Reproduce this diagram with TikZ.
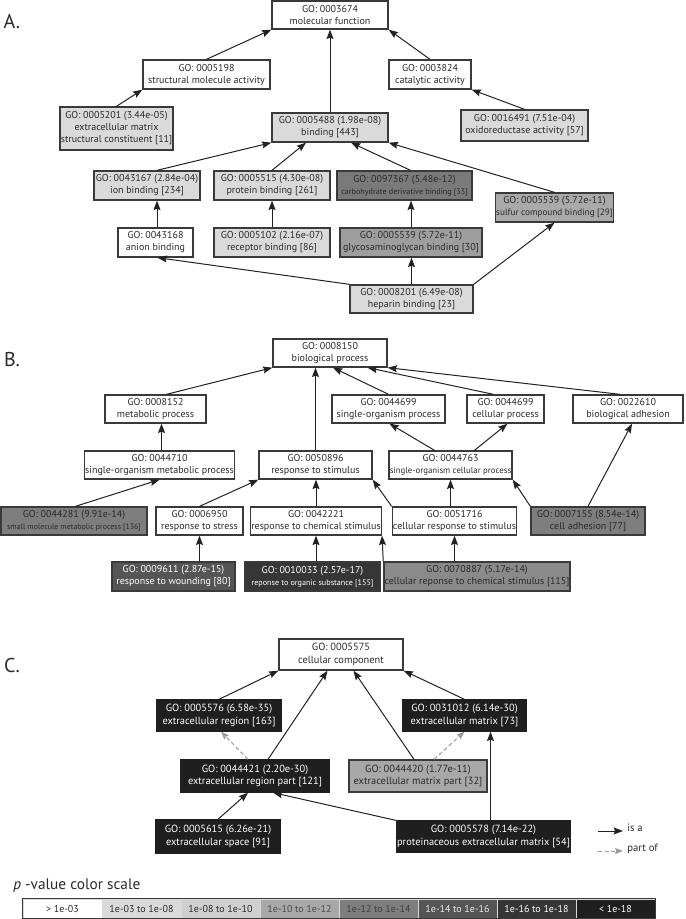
\documentclass[tikz,border=0pt]{standalone}
\usepackage{fontspec}
\setmainfont{PT Sans}
\usetikzlibrary{arrows.meta,calc}
\definecolor{cB}{HTML}{DADADA}
\definecolor{cC}{HTML}{CFCFCF}
\definecolor{cD}{HTML}{A8A8A8}
\definecolor{cE}{HTML}{7E7E7E}
\definecolor{cE2}{HTML}{8A8A8A}
\definecolor{cF}{HTML}{555555}
\definecolor{cG}{HTML}{363636}
\definecolor{cH}{HTML}{1F1F1F}
\definecolor{cCarb}{HTML}{7A7A7A}
\definecolor{cGly}{HTML}{9E9E9E}
\definecolor{cSul}{HTML}{AAAAAA}
\definecolor{edge}{HTML}{3A3A3A}
\definecolor{txt}{HTML}{2A2A2A}
\definecolor{arr}{HTML}{222222}
\definecolor{dashc}{HTML}{999999}
\newcommand\gob[7]{\node[gobox,#6,minimum width={(#4-#2)*0.75pt},minimum height={(#5-#3)*0.75pt}] (#1) at ({(#2+#4)/2},{(#3+#5)/2}) {#7};}
\newcommand\fsA{\fontsize{7.5}{9}\selectfont}
\newcommand\fsC{\fontsize{7.8}{9.3}\selectfont}
\tikzset{
  gobox/.style={draw=edge, line width=1pt, inner sep=0.5pt, align=center, font=\fsA, text=txt},
  dk/.style={fill=cH, draw=cH, text=white, font=\fsC},
  cbox/.style={font=\fsC},
  isa/.style={draw=arr, line width=0.75pt, -{Stealth[length=7pt,width=5.2pt,inset=1pt]}},
  partof/.style={draw=dashc, line width=0.75pt, dash pattern=on 3pt off 2pt, -{Stealth[length=6pt,width=4.5pt,inset=1pt,fill=dashc]}},
  seclabel/.style={font=\fontsize{15}{17}\selectfont, text=txt},
  legcell/.style={draw=white!85!black, line width=0.4pt, minimum width=79*0.75pt, minimum height=19*0.75pt, inner sep=0pt, font=\fontsize{7.5}{9}\selectfont}
}
\begin{document}
\begin{tikzpicture}[x=0.75pt,y=-0.75pt]
\useasboundingbox (0,0) rectangle (685,919);
% ---------------- A
\node[seclabel] (labA) at (12,22) {A.};
\gob{mf}{272}{1}{388}{29}{}{GO: 0003674\\molecular function}
\gob{struct}{143}{60}{270}{89}{}{GO: 0005198\\structural molecule activity}
\gob{cat}{389}{60}{471}{89}{}{GO: 0003824\\catalytic activity}
\gob{gA}{60}{107}{173}{150}{fill=cB}{GO: 0005201 (3.44e-05)\\extracellular matrix\\structural constituent [11]}
\gob{bind}{272}{113}{388}{142}{fill=cB}{GO: 0005488 (1.98e-08)\\binding [443]}
\gob{gB}{461}{110}{588}{141}{fill=cB}{GO: 0016491 (7.51e-04)\\oxidoreductase activity [57]}
\gob{ion}{94}{171}{200}{200}{fill=cB}{GO: 0043167 (2.84e-04)\\ion binding [234]}
\gob{prot}{214}{171}{330}{200}{fill=cB}{GO: 0005515 (4.30e-08)\\protein binding [261]}
\gob{carb}{337}{171}{472}{200}{fill=cCarb}{GO: 0097367 (5.48e-12)\\{\fontsize{6.1}{9}\selectfont carbohydrate derivative binding [33]}}
\gob{sulf}{496}{193}{613}{222}{fill=cSul}{GO: 0005539 (5.72e-11)\\{\fontsize{6.9}{9}\selectfont sulfur compound binding [29]}}
\gob{anion}{118}{228}{193}{257}{}{GO: 0043168\\anion binding}
\gob{recep}{214}{228}{330}{257}{fill=cB}{GO: 0005102 (2.16e-07)\\receptor binding [86]}
\gob{glyc}{340}{228}{482}{257}{fill=cGly}{GO: 0005539 (5.72e-11)\\glycosaminoglycan binding [30]}
\gob{hep}{350}{285}{473}{313}{fill=cB}{GO: 0008201 (6.49e-08)\\heparin binding [23]}
\draw[isa] (struct.north) -- (mf.south west);
\draw[isa] (cat.north) -- (mf.south east);
\draw[isa] (bind.north) -- (mf.south);
\draw[isa] (gA.north) -- (struct.south west);
\draw[isa] (gB.north) -- (cat.south east);
\draw[isa] ($(ion.north)+(10,0)$) -- (bind.south west);
\draw[isa] (prot.north) -- ($(bind.south)+(-24,0)$);
\draw[isa] ($(carb.north)+(6,0)$) -- ($(bind.south)+(21,0)$);
\draw[isa] (sulf.north) -- (bind.south east);
\draw[isa] ($(anion.north)+(1.5,0)$) coordinate (anN) -- (anN |- ion.south);
\draw[isa] (recep.north) -- (prot.south);
\draw[isa] (glyc.north) -- (glyc.north |- carb.south);
\draw[isa] (hep.north west) -- ($(anion.south)+(2,0)$);
\draw[isa] (hep.north) -- (hep.north |- glyc.south);
\draw[isa] (hep.north east) -- (sulf.south);
% ---------------- B
\node[seclabel] (labB) at (12,360) {B.};
\gob{bio}{273}{339}{387}{367}{}{GO: 0008150\\biological process}
\gob{metab}{105}{395}{206}{423}{}{GO: 0008152\\metabolic process}
\gob{sop}{332}{395}{445}{423}{}{GO: 0044699\\single-organism process}
\gob{cellp}{467}{395}{544}{423}{}{GO: 0044699\\cellular process}
\gob{badh}{573}{395}{683}{423}{}{GO: 0022610\\biological adhesion}
\gob{somp}{87}{451}{232}{479}{}{GO: 0044710\\single-organism metabolic process}
\gob{rstim}{259}{451}{372}{479}{}{GO: 0050896\\response to stimulus}
\gob{socp}{389}{451}{512}{479}{}{GO: 0044763\\{\fontsize{6.6}{9}\selectfont single-organism cellular process}}
\gob{small}{1}{507}{147}{535}{fill=cE}{GO: 0044281 (9.91e-14)\\{\fontsize{5.9}{9}\selectfont small molecule metabolic process [136]}}
\gob{stress}{156}{507}{243}{535}{}{GO: 0006950\\response to stress}
\gob{rchem}{253}{507}{379}{535}{}{GO: 0042221\\response to chemical stimulus}
\gob{crs}{395}{507}{514}{535}{}{GO: 0051716\\cellular response to stimulus}
\gob{cadh}{531}{507}{645}{535}{fill=cE}{GO: 0007155 (8.54e-14)\\cell adhesion [77]}
\gob{wound}{112}{562}{235}{591}{fill=cF,text=white}{GO: 0009611 (2.87e-15)\\response to wounding [80]}
\gob{organic}{245}{562}{380}{591}{fill=cG,text=white}{GO: 0010033 (2.57e-17)\\{\fontsize{6.1}{9}\selectfont reponse to organic substance [155]}}
\gob{crchem}{388}{562}{566}{591}{fill=cE2}{GO: 0070887 (5.17e-14)\\cellular reponse to chemical stimulus [115]}
\draw[isa] ($(metab.north)+(11,0)$) -- (bio.south west);
\draw[isa] (rstim.north) -- (rstim.north |- bio.south);
\draw[isa] (sop.north) -- ($(bio.south)+(3,0)$);
\draw[isa] ($(cellp.north)+(-12,0)$) -- ($(bio.south east)+(-20,0)$);
\draw[isa] ($(badh.north)+(-8,0)$) -- (bio.south east);
\draw[isa] ($(somp.north)+(2,0)$) coordinate (smN) -- (smN |- metab.south);
\draw[isa] ($(socp.north)+(-16,0)$) -- ($(sop.south)+(1,0)$);
\draw[isa] ($(socp.north)+(24,0)$) -- ($(cellp.south)+(2,0)$);
\draw[isa] (cadh.north) -- ($(badh.south)+(4,0)$);
\draw[isa] ($(small.north)+(1.5,0)$) -- (somp.south);
\draw[isa] (stress.north) -- (rstim.south west);
\draw[isa] (rchem.north) -- (rchem.north |- rstim.south);
\draw[isa] (crs.north west) -- (rstim.south east);
\draw[isa] (socp.south |- crs.north) -- (socp.south);
\draw[isa] (cadh.north west) -- (socp.south east);
\draw[isa] (stress.south |- wound.north) -- (stress.south);
\draw[isa] (rchem.south |- organic.north) -- (rchem.south);
\draw[isa] (crchem.north west) -- (rchem.south east);
\draw[isa] (crs.south |- crchem.north) -- (crs.south);
% ---------------- C
\node[seclabel] (labC) at (12,665) {C.};
\gob{cc}{279}{639}{403}{670}{cbox}{GO: 0005575\\cellular component}
\gob{region}{157}{700}{281}{731}{dk}{GO: 0005576 (6.58e-35)\\extracellular region [163]}
\gob{matrix}{403}{700}{526}{731}{dk}{GO: 0031012 (6.14e-30)\\extracellular matrix [73]}
\gob{rpart}{181}{760}{329}{792}{dk}{GO: 0044421 (2.20e-30)\\extracellular region part [121]}
\gob{mpart}{349}{760}{487}{792}{fill=cD,cbox}{GO: 0044420 (1.77e-11)\\extracellular matrix part [32]}
\gob{space}{156}{820}{280}{853}{dk}{GO: 0005615 (6.26e-21)\\extracellular space [91]}
\gob{prot2}{397}{821}{570}{852}{dk}{GO: 0005578 (7.14e-22)\\proteinaceous extracellular matrix [54]}
\draw[isa] (region.north) -- (cc.south west);
\draw[isa] ($(rpart.north)+(13,0)$) -- ($(cc.south)+(-13.5,0)$);
\draw[isa] ($(mpart.north)+(-4,0)$) -- ($(cc.south)+(12.5,0)$);
\draw[isa] (matrix.north) -- (cc.south east);
\draw[partof] ($(rpart.north)+(-7,0)$) -- ($(region.south)+(2,0)$);
\draw[partof] ($(mpart.north)+(16,0)$) -- (matrix.south);
\draw[isa] (space.north) -- ($(rpart.south)+(-7,0)$);
\draw[isa] (prot2.north west) -- ($(rpart.south)+(18,0)$);
\draw[isa] ($(prot2.north)+(7,0)$) coordinate (pN) -- (pN |- matrix.south);
% ---------------- legend
\coordinate (ia1) at (598,831); \coordinate (ia2) at (623,831);
\coordinate (pa1) at (598,851); \coordinate (pa2) at (623,851);
\draw[isa] (ia1) -- (ia2);
\draw[partof] (pa1) -- (pa2);
\node[anchor=west, font=\fontsize{8}{9}\selectfont, text=txt, inner sep=0pt] (isaT) at (627,828) {is a};
\node[anchor=west, font=\fontsize{8}{9}\selectfont, text=txt, inner sep=0pt] (poT) at (627,849) {part of};
\node[anchor=base west, font=\fontsize{11.5}{13}\selectfont, text=txt, inner sep=0pt] (ttl) at (13,889) {\textit{p} -value color scale};
\node[legcell, fill=white, text=txt] (l1) at (62.5,908.5) {> 1e-03};
\node[legcell, fill=cB, text=txt] (l2) at (141.5,908.5) {1e-03 to 1e-08};
\node[legcell, fill=cC, text=txt] (l3) at (220.5,908.5) {1e-08 to 1e-10};
\node[legcell, fill=cD, text=black!70] (l4) at (299.5,908.5) {1e-10 to 1e-12};
\node[legcell, fill=cE, text=black!75] (l5) at (378.5,908.5) {1e-12 to 1e-14};
\node[legcell, fill=cF, text=white!92!black] (l6) at (457.5,908.5) {1e-14 to 1e-16};
\node[legcell, fill=cG, text=white] (l7) at (536.5,908.5) {1e-16 to 1e-18};
\node[legcell, fill=cH, text=white] (l8) at (615.5,908.5) {< 1e-18};
\draw[edge, line width=0.9pt] (l1.north west) rectangle (l8.south east);
\end{tikzpicture}
\end{document}
